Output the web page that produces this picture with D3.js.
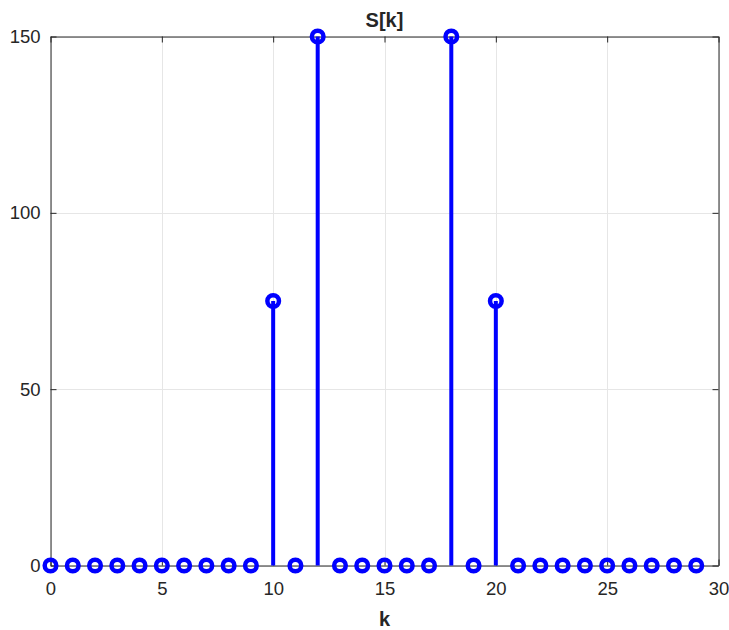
<!DOCTYPE html>
<html>
<head>
<meta charset="utf-8">
<script src="https://cdn.jsdelivr.net/npm/d3@7"></script>
<style>
  body { margin: 0; background: #fff; }
  svg text { font-family: "Liberation Sans", Arial, sans-serif; fill: #262626; }
</style>
</head>
<body>
<div class="chart"></div>
<script>
let width = 729;
let height = 630;

// data
const kValues = d3.range(0, 30);
const sValues = [0, 0, 0, 0, 0, 0, 0, 0, 0, 0, 75, 0, 150, 0, 0, 0, 0, 0, 150, 0, 75, 0, 0, 0, 0, 0, 0, 0, 0, 0];
const xTicks = [0, 5, 10, 15, 20, 25, 30];
const yTicks = [0, 50, 100, 150];

let margin = {left: 50.5, right: 10.5, top: 36.5, bottom: 64.5};

let svg = d3.select('.chart').append('svg')
.attr('width', width)
.attr('height', height);

let xScale = d3.scaleLinear()
.domain([0, 30])
.range([margin.left, width - margin.right]);

let yScale = d3.scaleLinear()
.domain([0, 150])
.range([height - margin.bottom, margin.top]);

// grid
svg.append('g')
.selectAll('line')
.data(xTicks)
.enter()
.append('line')
.attr('x1', d => Math.round(xScale(d)) + 0.5)
.attr('x2', d => Math.round(xScale(d)) + 0.5)
.attr('y1', yScale(0))
.attr('y2', yScale(150))
.attr('stroke', '#e6e6e6');

svg.append('g')
.selectAll('line')
.data(yTicks)
.enter()
.append('line')
.attr('y1', d => Math.round(yScale(d)) + 0.5)
.attr('y2', d => Math.round(yScale(d)) + 0.5)
.attr('x1', xScale(0))
.attr('x2', xScale(30))
.attr('stroke', '#e6e6e6');

// axes with inward ticks
let xAxisB = d3.axisBottom(xScale).tickValues(xTicks).tickSizeInner(-6).tickSizeOuter(0).tickPadding(16);
let xAxisT = d3.axisTop(xScale).tickValues(xTicks).tickSizeInner(-6).tickSizeOuter(0).tickFormat('');
let yAxisL = d3.axisLeft(yScale).tickValues(yTicks).tickSizeInner(-6).tickSizeOuter(0).tickPadding(10);
let yAxisR = d3.axisRight(yScale).tickValues(yTicks).tickSizeInner(-6).tickSizeOuter(0).tickFormat('');

const styleAxis = g => {
	g.select('.domain').attr('stroke', '#262626');
	g.selectAll('.tick line').attr('stroke', '#262626');
	g.selectAll('.tick text').style('font-size', '18.5px').attr('fill', '#262626');
};

svg.append('g').attr('transform', `translate(0,${yScale(0)})`).call(xAxisB).call(styleAxis);
svg.append('g').attr('transform', `translate(0,${yScale(150)})`).call(xAxisT).call(styleAxis);
svg.append('g').attr('transform', `translate(${xScale(0)},0)`).call(yAxisL).call(styleAxis);
svg.append('g').attr('transform', `translate(${xScale(30)},0)`).call(yAxisR).call(styleAxis);

let pts = kValues.map((k, i) => ({k: k, s: sValues[i]}));

// stems
svg.append('g')
.selectAll('line')
.data(pts)
.enter()
.append('line')
.attr('x1', d => xScale(d.k))
.attr('x2', d => xScale(d.k))
.attr('y1', yScale(0))
.attr('y2', d => yScale(d.s))
.attr('stroke', '#0000ff')
.attr('stroke-width', 4);

// markers
svg.append('g')
.selectAll('circle')
.data(pts)
.enter()
.append('circle')
.attr('cx', d => xScale(d.k))
.attr('cy', d => yScale(d.s))
.attr('r', 5.8)
.attr('fill', 'none')
.attr('stroke', '#0000ff')
.attr('stroke-width', 4.5);

// title and label
svg.append('text')
.attr('x', (xScale(0) + xScale(30)) / 2)
.attr('y', 27)
.attr('text-anchor', 'middle')
.style('font-size', '20px')
.style('font-weight', 'bold')
.text('S[k]');

svg.append('text')
.attr('x', (xScale(0) + xScale(30)) / 2)
.attr('y', 626)
.attr('text-anchor', 'middle')
.style('font-size', '20px')
.style('font-weight', 'bold')
.text('k');
</script>
</body>
</html>
